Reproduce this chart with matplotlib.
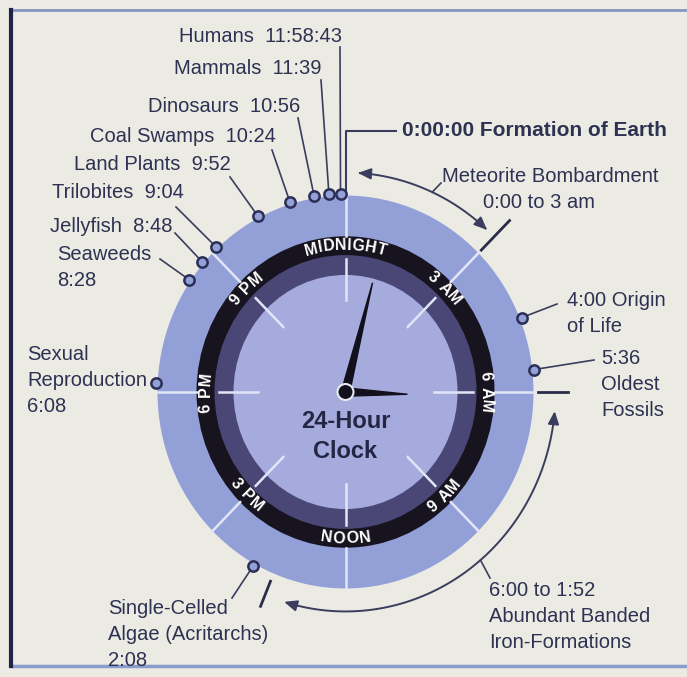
# 24-hour clock of Earth history: each event sits on the dial at its "time" of day.
import numpy as np
import matplotlib
matplotlib.use("Agg")
import matplotlib.pyplot as plt
from matplotlib.patches import Ellipse, Polygon, FancyArrowPatch
from matplotlib.path import Path
from matplotlib.font_manager import FontProperties, findfont
from matplotlib.ft2font import FT2Font

plt.rcParams["font.family"] = ["Liberation Sans", "DejaVu Sans"]

# dial labels and their positions (deg clockwise from midnight)
HOUR_LABELS = ["MIDNIGHT", "3 AM", "6 AM", "9 AM", "NOON", "3 PM", "6 PM", "9 PM"]
HOUR_DEG = [0, 45, 90, 135, 180, 225, 270, 315]

# events and where their marker sits on the rim
EVENT_LINES = [["Humans  11:58:43"], ["Mammals  11:39"], ["Dinosaurs  10:56"],
               ["Coal Swamps  10:24"], ["Land Plants  9:52"], ["Trilobites  9:04"],
               ["Jellyfish  8:48"], ["Seaweeds", "8:28"], ["Sexual", "Reproduction", "6:08"],
               ["4:00 Origin", "of Life"], ["5:36", "Oldest", "Fossils"],
               ["Single-Celled", "Algae (Acritarchs)", "2:08"]]
EVENT_DEG = [-1.5, -5, -9.5, -17, -27.5, -43, -49, -55.5, -87.5, 68, 83.5, 209]

# spans shown as arcs: (start deg, end deg) and their labels
SPAN_DEG = [(3.4, 42.4), (95, 197)]
SPAN_LINES = [["Meteorite Bombardment", "0:00 to 3 am"],
              ["6:00 to 1:52", "Abundant Banded", "Iron-Formations"]]
BOUNDARY_DEG = [45, 90, 202.5]          # dark boundary ticks outside the rim
ORIGIN_LABEL = "0:00:00 Formation of Earth"
CENTER_LINES = ["24-Hour", "Clock"]
HAND_DEG = {"hour": 92, "minute": 14.5}

# layout (pixels, y down)
W, H, DPI = 687, 677, 100
CX, CY, SY = 345.5, 392.0, 1.045        # photo is slightly stretched vertically
R_OUT, R_BLK, R_PUR, R_IN = 188, 149, 131, 112
TXT = "#2e3152"
LINE = "#3a3d5e"
FS = 14.5
# text anchor (x, y of first line, ha) and leader end for each event
EV_POS = [(342, 36, "right", (340, 47)), (321, 68, "right", (321, 80)),
          (300, 106, "right", (298, 118)), (276, 137, "right", (272, 150)),
          (231, 165, "right", (230, 177)), (184, 193, "right", (176, 207)),
          (172, 226, "right", (175, 233)), (57, 255, "left", (160, 259)),
          (27, 355, "left", None), (567, 301, "left", (557, 304)),
          (601, 359, "left", (594, 360)), (108, 608, "left", (232, 598))]
LINE_GAP = 26


def polar(r, deg):
    t = np.radians(deg)
    return CX + r * np.sin(t), CY - SY * r * np.cos(t)


fig = plt.figure(figsize=(W / DPI, H / DPI), dpi=DPI, facecolor="#ebebe4")
ax = fig.add_axes([0, 0, 1, 1])
ax.set_xlim(0, W); ax.set_ylim(H, 0); ax.axis("off")

# frame
ax.plot([11, W], [10, 10], color="#8595bf", lw=2)
ax.plot([11, W], [666, 666], color="#8a9ccb", lw=2.5)
ax.plot([11, 11], [10, 666], color="#1f2348", lw=3)

# dial discs
for r, c, z in [(R_OUT, "#93a0d8", 1), (R_BLK, "#17141f", 2), (R_PUR, "#4a4676", 3), (R_IN, "#a6abde", 4)]:
    ax.add_patch(Ellipse((CX, CY), 2 * r, 2 * r * SY, color=c, zorder=z, lw=0))

# white ticks
for d in HOUR_DEG:
    for r0, r1 in [(R_BLK, R_OUT), (88, 127)]:
        x0, y0 = polar(r0, d); x1, y1 = polar(r1, d)
        ax.plot([x0, x1], [y0, y1], color="#e2e5f6", lw=1.8, zorder=5)

# ring labels, set along the black ring
fp_ring = FontProperties(family="Liberation Sans", weight="bold", size=11.5)
ft = FT2Font(findfont(fp_ring)); ft.set_size(11.5, DPI)
r_lab = (R_BLK + R_PUR) / 2 + 0.5
for lab, d in zip(HOUR_LABELS, HOUR_DEG):
    top = d in (315, 0, 45, 90, 270)
    advs = [ft.load_char(ord(ch)).linearHoriAdvance / 65536 + 0.6 for ch in lab]
    pos = -sum(advs) / 2
    for ch, a in zip(lab, advs):
        s = pos + a / 2; pos += a
        if ch == " ":
            continue
        th = d + np.degrees(s / r_lab) if top else d - np.degrees(s / r_lab)
        rot = -th if top else 180 - th
        x, y = polar(r_lab, th)
        ax.text(x, y, ch, fontproperties=fp_ring, color="white", rotation=rot,
                rotation_mode="anchor", ha="center", va="center", zorder=6)

# hands
for name, length, hw in [("minute", 108, 4.2), ("hour", 62, 4.2)]:
    t = np.radians(HAND_DEG[name])
    px, py = np.cos(t), np.sin(t)
    tip = polar(length, HAND_DEG[name])
    tail = polar(-3, HAND_DEG[name])
    ax.add_patch(Polygon([(CX + px * hw, CY + py * hw), tip, (CX - px * hw, CY - py * hw), tail],
                         closed=True, color="#12101c", zorder=7))
ax.add_patch(Ellipse((CX, CY), 16, 16, facecolor="#12101c", edgecolor="#e8e8f0", lw=1.5, zorder=8))
for i, s in enumerate(CENTER_LINES):
    ax.text(CX, 422 + i * 30, s, ha="center", va="center", fontsize=17, fontweight="bold",
            color="#242644", zorder=9)

# formation of Earth leader
x0, y0 = polar(R_OUT, 0)
ax.plot([x0, x0, 396], [y0, 131, 131], color=LINE, lw=1.5, zorder=4)
ax.text(402, 131, ORIGIN_LABEL, ha="left", va="center", fontsize=15, fontweight="bold", color=TXT)

# dark boundary ticks
for d, (r0, r1) in zip(BOUNDARY_DEG, [(192, 232), (192, 222), (196, 222)]):
    x0, y0 = polar(r0, d); x1, y1 = polar(r1, d)
    ax.plot([x0, x1], [y0, y1], color="#2a2d4a", lw=2, zorder=4)

# span arcs with arrows and their labels
for (a0, a1), lines, leader, tpos in zip(
        SPAN_DEG, SPAN_LINES,
        [(24.4, (441, 183)), (140, (490, 578))],
        [[(442, 177), (483, 202)], [(489, 591), (489, 617), (489, 642)]]):
    th = np.linspace(a0, a1, 80)
    xs, ys = polar(210, th)
    arr = FancyArrowPatch(path=Path(np.column_stack([xs, ys])),
                          arrowstyle="<|-|>,head_length=0.7,head_width=0.3",
                          mutation_scale=11, color=LINE, lw=1.4, zorder=4)
    ax.add_patch(arr)
    lx, ly = polar(210, leader[0])
    ax.plot([lx, leader[1][0]], [ly, leader[1][1]], color=LINE, lw=1.2, zorder=4)
    for s, (tx, ty) in zip(lines, tpos):
        ax.text(tx, ty, s, ha="left", va="center", fontsize=FS, color=TXT)

# event markers, leaders and labels
for lines, d, (tx, ty, ha, lead) in zip(EVENT_LINES, EVENT_DEG, EV_POS):
    x, y = polar(190, d)
    if lead is not None:
        ax.plot([lead[0], x], [lead[1], y], color=LINE, lw=1.2, zorder=4)
    ax.scatter([x], [y], s=55, facecolor="#94a0d8", edgecolor="#2c2f55", linewidths=1.8, zorder=10)
    for i, s in enumerate(lines):
        ax.text(tx, ty + i * LINE_GAP, s, ha=ha, va="center", fontsize=FS, color=TXT)

fig.savefig("out.png", dpi=DPI, facecolor=fig.get_facecolor())
